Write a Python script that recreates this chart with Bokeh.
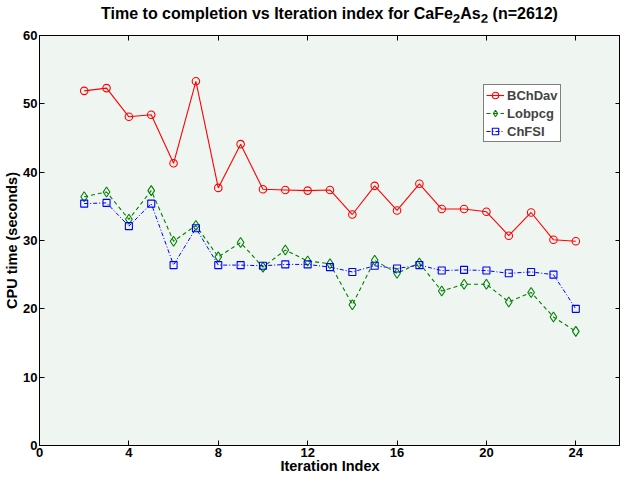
from bokeh.plotting import figure
from bokeh.models import LinearAxis, Range1d, Legend, LegendItem, FixedTicker, Div
from bokeh.layouts import column
from bokeh.embed import file_html
from bokeh.resources import INLINE

iterations = list(range(2, 25))
bchdav = [51.9, 52.3, 48.1, 48.4, 41.3, 53.3, 37.7, 44.1, 37.5, 37.4, 37.3, 37.4,
          33.8, 38.0, 34.4, 38.3, 34.6, 34.6, 34.2, 30.7, 34.1, 30.1, 29.9]
lobpcg = [36.4, 37.1, 33.1, 37.3, 29.9, 32.2, 27.6, 29.7, 26.1, 28.6, 27.0, 26.6,
          20.6, 27.1, 25.2, 26.7, 22.6, 23.6, 23.6, 21.0, 22.4, 18.8, 16.7]
chfsi = [35.4, 35.5, 32.1, 35.4, 26.4, 31.8, 26.4, 26.4, 26.3, 26.5, 26.5, 26.1,
         25.4, 26.3, 25.9, 26.4, 25.6, 25.7, 25.6, 25.2, 25.4, 25.0, 20.0]
x_ticks = [0, 4, 8, 12, 16, 20, 24]
y_ticks = [0, 10, 20, 30, 40, 50, 60]
series_names = ["BChDav", "Lobpcg", "ChFSI"]
title_html = ("Time to completion vs Iteration index for "
              "CaFe<sub>2</sub>As<sub>2</sub> (n=2612)")

FONT = "Liberation Sans"
W = 620
TITLE_H = 22
BL, BR, BT, BB = 39, 0, 13, 32
FRAME_H = 410
H = BT + FRAME_H + BB

p = figure(width=W, height=H, x_range=Range1d(0, 26), y_range=Range1d(0, 60),
           output_backend="svg", toolbar_location=None,
           min_border_left=BL, min_border_right=BR, min_border_top=BT, min_border_bottom=BB)

p.background_fill_color = "#eff5f1"
p.border_fill_color = "white"
p.outline_line_color = "black"
p.xgrid.visible = False
p.ygrid.visible = False

for ax, ticks in ((p.xaxis[0], x_ticks), (p.yaxis[0], y_ticks)):
    ax.ticker = FixedTicker(ticks=ticks)
    ax.major_tick_in = 5
    ax.major_tick_out = 0
    ax.minor_tick_line_color = None
    ax.major_label_text_font = FONT
    ax.major_label_text_font_style = "bold"
    ax.major_label_text_font_size = "13px"
    ax.major_label_text_color = "black"
    ax.axis_label_text_font = FONT
    ax.axis_label_text_font_style = "bold"
    ax.axis_label_text_font_size = "14.5px"
    ax.axis_label_text_color = "black"
    ax.axis_line_color = "black"

p.xaxis.major_label_standoff = 2
p.xaxis.axis_label_standoff = -2
p.yaxis.major_label_standoff = 2
p.yaxis.axis_label_standoff = 0
p.xaxis.axis_label = "Iteration Index"
p.yaxis.axis_label = "CPU time (seconds)"

for side, ticks in (("above", x_ticks), ("right", y_ticks)):
    a = LinearAxis(ticker=FixedTicker(ticks=ticks), major_label_text_color=None,
                   major_label_text_font_size="1px",
                   major_tick_in=5, major_tick_out=0, minor_tick_line_color=None,
                   major_label_standoff=0, axis_line_color="black")
    p.add_layout(a, side)

l1 = p.line(iterations, bchdav, line_color="red", line_width=1.1)
s1 = p.scatter(iterations, bchdav, marker="circle", size=7.5, line_color="red",
               fill_color=None, line_width=1.1)
l2 = p.line(iterations, lobpcg, line_color="green", line_width=1.1, line_dash="4 3")
s2 = p.scatter(iterations, lobpcg, marker="diamond", size=10, line_color="green",
               fill_color=None, line_width=1.1)
l3 = p.line(iterations, chfsi, line_color="blue", line_width=1.0, line_dash="4 2 1 2")
s3 = p.scatter(iterations, chfsi, marker="square", size=7, line_color="blue",
               fill_color=None, line_width=1.1)

legend = Legend(items=[LegendItem(label=series_names[0], renderers=[l1, s1]),
                       LegendItem(label=series_names[1], renderers=[l2, s2]),
                       LegendItem(label=series_names[2], renderers=[l3, s3])],
                location=(444, 303))
legend.border_line_color = "black"
legend.border_line_width = 1
legend.background_fill_color = "white"
legend.background_fill_alpha = 1
legend.label_text_font = FONT
legend.label_text_font_style = "bold"
legend.label_text_font_size = "13px"
legend.glyph_width = 18
legend.glyph_height = 16
legend.label_height = 16
legend.spacing = 2
legend.padding = 2
legend.margin = 0
legend.label_standoff = 3
p.add_layout(legend)

title = Div(text=title_html, width=W - BL - BR, height=TITLE_H, margin=(0, 0, 0, BL),
            styles={"font-family": FONT, "font-weight": "bold", "font-size": "16px",
                    "color": "black", "text-align": "center", "line-height": "28px",
                    "width": f"{W - BL - BR}px", "white-space": "nowrap"})

layout = column(title, p, spacing=0)
open("out.html", "w").write(file_html(layout, INLINE))
